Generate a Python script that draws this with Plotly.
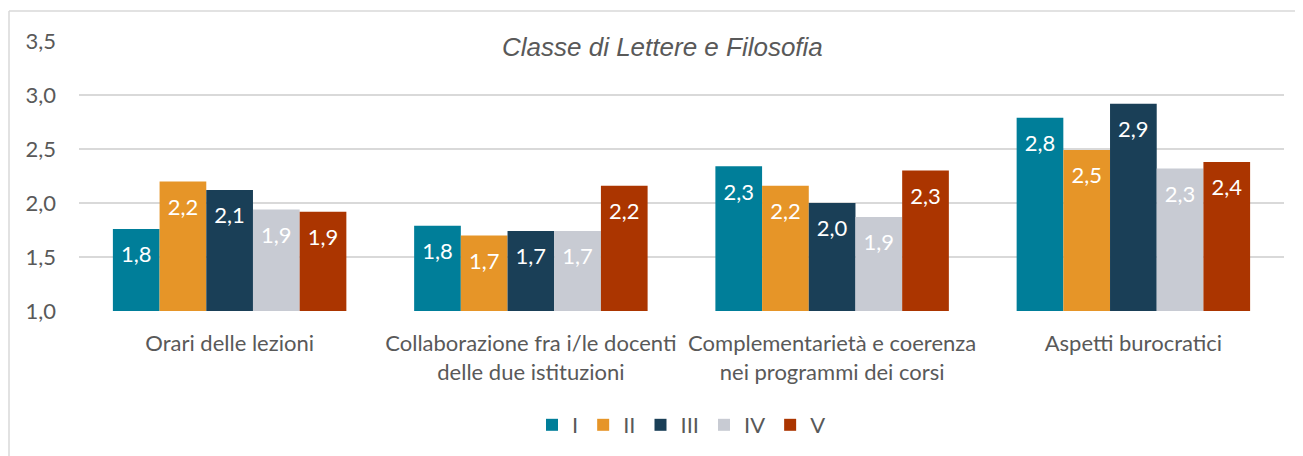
import plotly.graph_objects as go

categories = [
    "Orari delle lezioni",
    "Collaborazione fra i/le docenti<br>delle due istituzioni",
    "Complementarietà e coerenza<br>nei programmi dei corsi",
    "Aspetti burocratici",
]
series_names = ["I", "II", "III", "IV", "V"]
values_I = [1.76, 1.79, 2.34, 2.79]
values_II = [2.20, 1.70, 2.16, 2.49]
values_III = [2.12, 1.74, 2.00, 2.92]
values_IV = [1.94, 1.74, 1.87, 2.32]
values_V = [1.92, 2.16, 2.30, 2.38]
colors = ["#007E99", "#E69528", "#1A3F57", "#C8CBD3", "#AB3500"]
y_ticks = [1.0, 1.5, 2.0, 2.5, 3.0, 3.5]
title_text = "Classe di Lettere e Filosofia"

all_values = [values_I, values_II, values_III, values_IV, values_V]

# pixel geometry (page has an 8px body margin)
W, H = 1295, 448
ML, MT, PW, PH = 71, 33, 1205, 271
y_min, y_max = 1.0, 3.5
px_per_unit = PH / (y_max - y_min)
label_drop = 28 / px_per_unit  # label centre sits ~28px below the bar top

fig = go.Figure()
for i, (name, vals, col) in enumerate(zip(series_names, all_values, colors)):
    fig.add_trace(go.Bar(
        x=categories, y=vals, name=name, offsetgroup=str(i),
        marker=dict(color=col, line=dict(width=0)),
        hoverinfo="skip",
    ))
for i, (name, vals) in enumerate(zip(series_names, all_values)):
    fig.add_trace(go.Scatter(
        x=categories, y=[v - label_drop for v in vals], mode="text",
        offsetgroup=str(i),
        text=[f"{v:.1f}".replace(".", ",") for v in vals],
        textposition="middle center",
        textfont=dict(family="Lato", size=22, color="white"),
        showlegend=False, hoverinfo="skip", cliponaxis=False,
    ))

grey = "#595959"
fig.update_layout(
    width=W, height=H,
    margin=dict(l=ML, r=W - ML - PW, t=MT, b=H - MT - PH),
    paper_bgcolor="white", plot_bgcolor="white",
    barmode="group", bargap=0.225, bargroupgap=0,
    scattermode="group", scattergap=0.225,
    separators=",.",
    font=dict(family="Lato", color=grey, size=22),
    showlegend=True,
    legend=dict(orientation="h", x=0.5, xanchor="center", y=-0.417, yanchor="middle",
                font=dict(size=22, color=grey), itemwidth=30, traceorder="normal"),
)
fig.update_yaxes(range=[y_min, y_max], tickvals=y_ticks, tickformat=".1f",
                 showgrid=True, gridcolor="#D9D9D9", gridwidth=1.5,
                 zeroline=False, showline=False, ticks="",
                 ticklabelstandoff=22, tickfont=dict(size=22, color=grey),
                 fixedrange=True)
fig.update_xaxes(showgrid=False, showline=False, ticks="", ticklabelstandoff=17,
                 tickfont=dict(size=22, color=grey), fixedrange=True)

fig.add_annotation(text="<i>" + title_text + "</i>", xref="paper", yref="paper",
                   x=0.484, y=0.978, xanchor="center", yanchor="middle", showarrow=False,
                   font=dict(family="Liberation Sans", size=26, color=grey),
                   bgcolor="white", borderpad=4)

# outer chart border (left and top visible)
bx = (9 - 79) / PW
by = (312 - 11) / PH
fig.add_shape(type="line", xref="paper", yref="paper",
              x0=bx, x1=bx, y0=(312 - 470) / PH, y1=by,
              line=dict(color="#D9D9D9", width=1.5))
fig.add_shape(type="line", xref="paper", yref="paper",
              x0=bx, x1=(1320 - 79) / PW, y0=by, y1=by,
              line=dict(color="#D9D9D9", width=1.5))

fig.write_html("out.html")
